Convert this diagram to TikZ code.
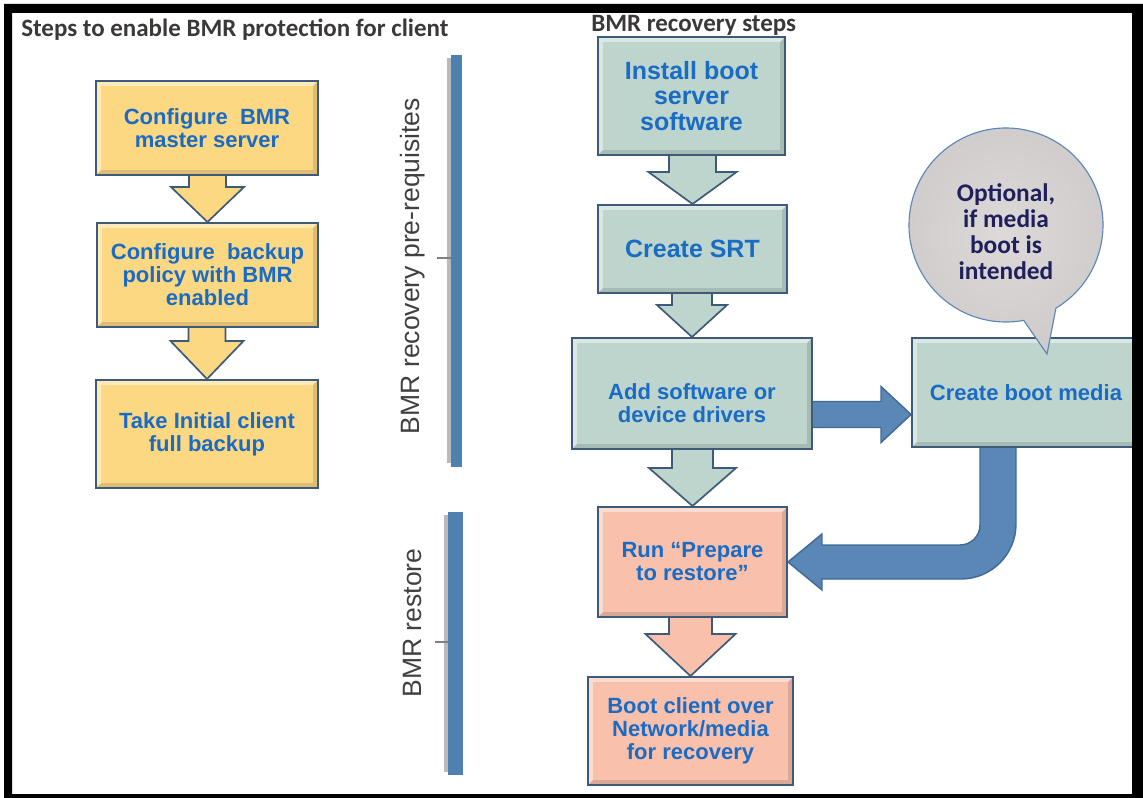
\documentclass[tikz,border=0pt]{standalone}
\usepackage{fontspec}
\setmainfont{Liberation Sans}
\newfontfamily\calfont{Carlito}
\usetikzlibrary{calc}
\pgfdeclarelayer{bg}
\pgfsetlayers{bg,main}
\newdimen\px \px=0.70866pt
\definecolor{yelfill}{HTML}{FCD883}
\definecolor{grnfill}{HTML}{BED5CD}
\definecolor{pnkfill}{HTML}{F9C0AC}
\definecolor{boxline}{HTML}{3D5B78}
\definecolor{boxtext}{HTML}{1A6BC4}
\definecolor{barblue}{HTML}{5080B0}
\definecolor{arrblue}{HTML}{5A87B6}
\definecolor{arrline}{HTML}{3E6A95}
\definecolor{titlegray}{HTML}{3B3838}
\definecolor{labelgray}{HTML}{404040}
\definecolor{bubin}{HTML}{DDD9D8}
\definecolor{bubout}{HTML}{CFCBCA}
\definecolor{bubline}{HTML}{5B86B8}
\definecolor{bubtext}{HTML}{1F1F5C}
% #1 from node, #2 to node, #3 shaft half width, #4 head half width, #5 head length, #6 style
\newcommand\downarr[6]{%
  \path[#6] let \p1=(#1.south), \p2=(#2.north) in
  (\x2-#3*\px,\y1+6*\px) -- (\x2-#3*\px,\y2+#5*\px) -- (\x2-#4*\px,\y2+#5*\px)
  -- (\x2,\y2) -- (\x2+#4*\px,\y2+#5*\px) -- (\x2+#3*\px,\y2+#5*\px)
  -- (\x2+#3*\px,\y1+6*\px) -- cycle;}
\begin{document}
\begin{tikzpicture}[x=0.70866pt,y=-0.70866pt,
  bevel/.style={path picture={
    \fill[white, opacity=0.45] (path picture bounding box.north west) -- (path picture bounding box.north east)
      -- ([xshift=-3.5pt,yshift=-3.5pt]path picture bounding box.north east)
      -- ([xshift=3.5pt,yshift=-3.5pt]path picture bounding box.north west)
      -- ([xshift=3.5pt,yshift=3.5pt]path picture bounding box.south west)
      -- (path picture bounding box.south west) -- cycle;
    \fill[black, opacity=0.12] (path picture bounding box.south east) -- (path picture bounding box.north east)
      -- ([xshift=-3.5pt,yshift=-3.5pt]path picture bounding box.north east)
      -- ([xshift=-3.5pt,yshift=3.5pt]path picture bounding box.south east)
      -- ([xshift=3.5pt,yshift=3.5pt]path picture bounding box.south west)
      -- (path picture bounding box.south west) -- cycle;}},
  box/.style={bevel, draw=boxline, line width=1.4pt, inner sep=0pt, align=center, text=boxtext,
    font=\bfseries\fontsize{15.6}{16.3}\selectfont},
  big/.style={font=\bfseries\fontsize{17.7}{17.9}\selectfont},
  boxtxt/.style={inner sep=0pt, align=center, text=boxtext, font=\bfseries\fontsize{15.6}{16.3}\selectfont},
  yarrow/.style={fill=yelfill, draw=boxline, line width=1.2pt, line join=miter},
  garrow/.style={fill=grnfill, draw=boxline, line width=1.2pt, line join=miter},
  parrow/.style={fill=pnkfill, draw=boxline, line width=1.2pt, line join=miter},
  barrow/.style={fill=arrblue, draw=arrline, line width=1pt, line join=miter},
  title/.style={anchor=base west, inner sep=0pt, text=titlegray, font=\calfont\bfseries\fontsize{17.7}{20}\selectfont},
  sidelabel/.style={rotate=90, inner sep=0pt, text=labelgray, font=\fontsize{18.8}{20}\selectfont}
]
\useasboundingbox (0,0) rectangle (1143,798);

% titles
\node[title] (T1) at (21,37) {Steps to enable BMR protection for client};
\node[title] (T2) at (591,32) {BMR recovery steps};

% left column
\node[box, fill=yelfill, minimum width=222\px, minimum height=94\px] (Y1) at (207,128) {Configure\ \ BMR\\master server};
\node[box, fill=yelfill, minimum width=221\px, minimum height=104\px] (Y2) at (207.5,275) {Configure\ \ backup\\policy with BMR\\enabled};
\node[box, fill=yelfill, minimum width=222\px, minimum height=108\px] (Y3) at (207,434) {Take Initial client\\full backup};

% right column
\node[box, big, fill=grnfill, minimum width=187\px, minimum height=118\px] (G1) at (691.5,96) {Install boot\\server\\software};
\node[box, big, fill=grnfill, minimum width=189\px, minimum height=88\px] (G2) at (692.5,249) {Create SRT};
\node[box, fill=grnfill, minimum width=240\px, minimum height=111\px] (G3) at (692,393.5) {};
\node[boxtxt] (G3t) at (692,403) {Add software or\\device drivers};
\node[box, fill=grnfill, minimum width=228\px, minimum height=109\px] (G4) at (1026,392.5) {Create boot media};
\node[box, fill=pnkfill, minimum width=189\px, minimum height=110\px] (P1) at (692.5,562) {Run “Prepare\\to restore”};
\node[box, fill=pnkfill, minimum width=205\px, minimum height=108\px] (P2) at (690.5,731) {Boot client over\\Network/media\\for recovery};

% arrows
\begin{pgfonlayer}{bg}
\downarr{Y1}{Y2}{18.5}{36.5}{35}{yarrow}
\downarr{Y2}{Y3}{18.5}{36.5}{38}{yarrow}
\downarr{G1}{G2}{23.5}{44}{32}{garrow}
\downarr{G2}{G3}{20}{35}{32}{garrow}
\downarr{G3}{P1}{20.5}{43.5}{38}{garrow}
\downarr{P1}{P2}{21.5}{45}{42}{parrow}
% right arrow
\path[barrow] let \p1=(G3.east), \p2=(G4.west), \n1={\y1-21*\px} in
  (\x1-6*\px,\n1+13*\px) -- (\x2-30*\px,\n1+13*\px) -- (\x2-30*\px,\n1+28*\px)
  -- (\x2,\n1) -- (\x2-30*\px,\n1-28*\px) -- (\x2-30*\px,\n1-13*\px)
  -- (\x1-6*\px,\n1-13*\px) -- cycle;
% curved arrow
\coordinate (vx) at ($(G4.south)+(-28,0)$);
\coordinate (corner) at (vx |- P1.east);
\path[barrow] ($(vx)+(-18,-5)$) -- ($(corner)+(-18,-37)$) arc[start angle=0, end angle=90, radius=20]
  -- ($(P1.east)+(34,-17)$) -- ($(P1.east)+(34,-28)$) -- (P1.east) -- ($(P1.east)+(34,28)$)
  -- ($(P1.east)+(34,17)$) -- ($(corner)+(-37,17)$) arc[start angle=90, end angle=0, radius=55]
  -- ($(vx)+(18,-5)$) -- cycle;
\end{pgfonlayer}

% speech bubble
\coordinate (bc) at (1006,225);
\path[inner color=bubin, outer color=bubout, draw=bubline, line width=0.8pt] ($(bc)+(79.5:97)$) -- ($(G4.north)+(21,17)$) -- ($(bc)+(59:97)$)
  arc[start angle=59, end angle=-280.5, radius=97] -- cycle;
\node[align=center, inner sep=0pt, text=bubtext, font=\calfont\bfseries\fontsize{18}{18.4}\selectfont] (BT) at (1006,232) {Optional,\\if media\\boot is\\intended};

% side brackets
\fill[gray!55] (447,58) rectangle (451,463);
\fill[barblue] (451,55) rectangle (462,467);
\draw[gray, line width=0.8pt] (437,258) -- (451,258);
\node[sidelabel] (L1) at (413,266) {BMR recovery pre-requisites};
\fill[gray!55] (444,515) rectangle (448,772);
\fill[barblue] (448,512) rectangle (463,775);
\draw[gray, line width=0.8pt] (435,642) -- (448,642);
\node[sidelabel] (L2) at (413,623) {BMR restore};

% frame
\fill[black, even odd rule] (4,4) rectangle (1143,798) (12,13) rectangle (1132,794);
\end{tikzpicture}
\end{document}
